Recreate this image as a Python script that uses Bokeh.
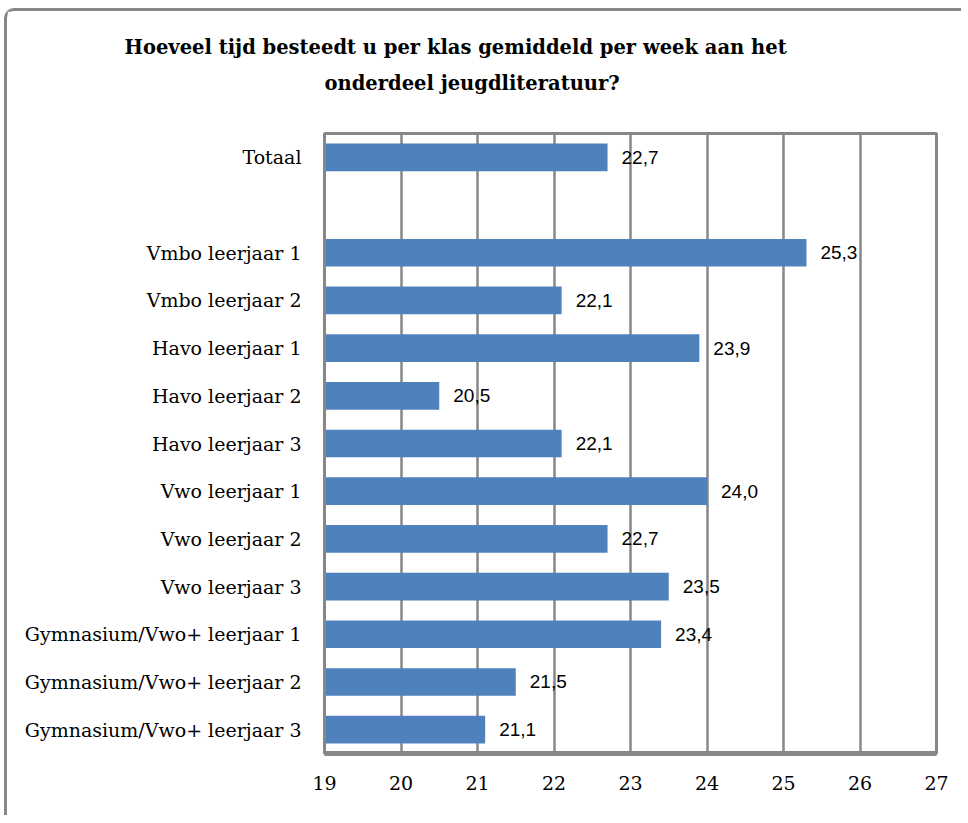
from bokeh.plotting import figure
from bokeh.models import Range1d, FactorRange, Title, FixedTicker
from bokeh.core.properties import value
from bokeh.embed import file_html
from bokeh.resources import INLINE

title_lines = ["Hoeveel tijd besteedt u per klas gemiddeld per week aan het",
               "onderdeel jeugdliteratuur?"]
categories = ["Totaal", "Vmbo leerjaar 1", "Vmbo leerjaar 2", "Havo leerjaar 1",
              "Havo leerjaar 2", "Havo leerjaar 3", "Vwo leerjaar 1", "Vwo leerjaar 2",
              "Vwo leerjaar 3", "Gymnasium/Vwo+ leerjaar 1", "Gymnasium/Vwo+ leerjaar 2",
              "Gymnasium/Vwo+ leerjaar 3"]
values = [22.7, 25.3, 22.1, 23.9, 20.5, 22.1, 24.0, 22.7, 23.5, 23.4, 21.5, 21.1]
x_ticks = [19, 20, 21, 22, 23, 24, 25, 26, 27]
x_min, x_max = 19, 27

GRAY = "#878787"
BAR = "#4F81BD"
SERIF = "DejaVu Serif"

# order top to bottom, with an empty slot after "Totaal"
factors_top_down = [categories[0], " "] + categories[1:]
labels = [f"{v:.1f}".replace(".", ",") for v in values]

p = figure(y_range=FactorRange(factors=list(reversed(factors_top_down))),
           x_range=Range1d(x_min, x_max), title=None,
           frame_width=612, frame_height=620,
           min_border_left=317, min_border_top=122, min_border_right=25, min_border_bottom=62,
           output_backend="svg", toolbar_location=None)
p.styles = {"border-left": f"3px solid {GRAY}", "border-top": f"3px solid {GRAY}",
            "border-top-left-radius": "10px", "margin-left": "4px", "margin-top": "8px"}

p.hbar(y=categories, left=x_min, right=values, height=0.58, color=BAR, line_color=None)
p.text(x=values, y=categories, text=labels, x_offset=14, text_baseline="middle",
       text_font=value("Liberation Sans"), text_font_size="19px", text_color="#000000")

p.outline_line_color = GRAY
p.outline_line_width = 3
p.background_fill_color = "white"

p.xgrid.ticker = FixedTicker(ticks=x_ticks)
p.xgrid.grid_line_color = GRAY
p.xgrid.grid_line_width = 2.5
p.ygrid.grid_line_color = None

p.xaxis.ticker = FixedTicker(ticks=x_ticks)
p.xaxis.axis_line_color = GRAY
p.xaxis.axis_line_width = 5
p.xaxis.major_tick_line_color = None
p.xaxis.minor_tick_line_color = None
p.xaxis.major_label_standoff = 16
p.xaxis.major_label_text_font = SERIF
p.xaxis.major_label_text_font_size = "19px"
p.xaxis.major_label_text_color = "#000000"

p.yaxis.axis_line_color = GRAY
p.yaxis.axis_line_width = 3
p.yaxis.major_tick_line_color = None
p.yaxis.minor_tick_line_color = None
p.yaxis.major_label_standoff = 17
p.yaxis.major_label_text_font = SERIF
p.yaxis.major_label_text_font_size = "19px"
p.yaxis.major_label_text_color = "#000000"

# spacer between frame and title, then the two title lines (closest to frame first)
p.add_layout(Title(text=" ", text_font_size="10px", standoff=26), "above")
p.add_layout(Title(text=title_lines[1], align="left", offset=0, standoff=0,
                   text_font=SERIF, text_font_size="19.5px", text_font_style="bold",
                   text_color="#000000"), "above")
p.add_layout(Title(text=title_lines[0], align="left", offset=-200, standoff=22,
                   text_font=SERIF, text_font_size="19.5px", text_font_style="bold",
                   text_color="#000000"), "above")

open("out.html", "w").write(file_html(p, INLINE))
